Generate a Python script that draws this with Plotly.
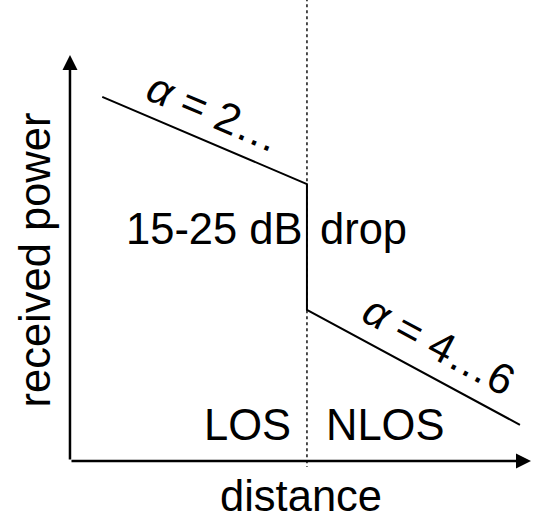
import plotly.graph_objects as go

# Schematic path-loss profile: received power vs. distance (arbitrary units)
distance = [0.70, 5.14, 5.14, 9.76]
power = [8.97, 6.82, 3.72, 0.89]

# LOS / NLOS boundary
boundary = 5.14

# Axis extents (arrow tips)
x_max = 10.0
y_max = 10.0

FONT = "Liberation Sans, Arial, sans-serif"
FS = 43.5

fig = go.Figure()

# LOS/NLOS boundary as a dotted vertical line
fig.add_trace(go.Scatter(
    x=[boundary, boundary], y=[11.4, -0.15],
    mode="lines",
    line=dict(color="#222222", width=1.6, dash="dot"),
    hoverinfo="skip", showlegend=False,
))

# Power profile
fig.add_trace(go.Scatter(
    x=distance, y=power,
    mode="lines",
    line=dict(color="black", width=2),
    hoverinfo="skip", showlegend=False,
))

annotations = []

# Axis arrows
for tip, tail in [((x_max, 0), (0, 0)), ((0, y_max), (0, 0))]:
    annotations.append(dict(
        x=tip[0], y=tip[1], ax=tail[0], ay=tail[1],
        xref="x", yref="y", axref="x", ayref="y",
        text="", showarrow=True, arrowhead=2,
        arrowwidth=2.5, arrowsize=1.2, arrowcolor="black",
    ))


def label(text, x, y, angle=0, size=FS):
    annotations.append(dict(
        x=x, y=y, xref="x", yref="y", text=text, showarrow=False,
        textangle=angle, xanchor="center", yanchor="middle", borderpad=0,
        font=dict(family=FONT, size=size, color="black"),
    ))


label("15-25 dB", 3.145, 5.71)
label("drop", 6.356, 5.71)
label("LOS", 3.84, 0.89)
label("NLOS", 6.83, 0.89)
label("distance", 5.01, -0.874)
label("received power", -0.748, 4.95, angle=-90)
label("<i>α</i> = 2…", 3.12, 8.6, angle=23, size=43)
label("<i>α</i> = 4…6", 8.0, 2.86, angle=28, size=43)

fig.update_layout(
    width=537, height=521,
    margin=dict(l=0, r=0, t=0, b=0),
    paper_bgcolor="white", plot_bgcolor="white",
    xaxis=dict(range=[-1.518, 10.130], visible=False, fixedrange=True),
    yaxis=dict(range=[-1.478, 11.355], visible=False, fixedrange=True),
    annotations=annotations,
    showlegend=False,
)

fig.write_html("out.html", config={"displayModeBar": False})
